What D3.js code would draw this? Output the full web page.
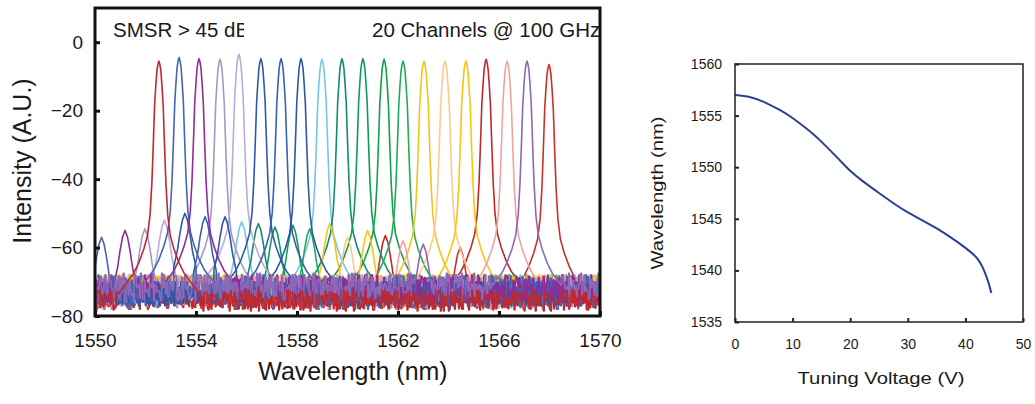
<!DOCTYPE html>
<html>
<head>
<meta charset="utf-8">
<script src="https://cdn.jsdelivr.net/npm/d3@7"></script>
<style>
  body { margin: 0; background: #fff; }
  svg { display: block; }
  text { font-family: "Liberation Sans", Arial, sans-serif; fill: #1a1a1a; }
</style>
</head>
<body>
<svg id="chart"></svg>
<script>
// ---- left panel: 20 channel spectra ----
var peakCenters = [1552.53, 1553.33, 1554.12, 1554.95, 1555.70, 1556.57, 1557.37, 1558.16, 1558.99, 1559.78,
                   1560.61, 1561.45, 1562.20, 1563.03, 1563.86, 1564.69, 1565.49, 1566.32, 1567.11, 1567.98];
var peakLevels = [-5.5, -4.5, -4.8, -5, -3.5, -4.8, -4.8, -4.8, -5, -4.8,
                  -4.8, -5, -5.5, -5.5, -5.5, -5.5, -5, -5.5, -5.5, -6.5];
var channelColors = ["#c0282d", "#4564b4", "#8e2c9a", "#a597c6", "#b9acd6", "#2f58a8", "#3a5fb3", "#2e55a6", "#74c7ea", "#0f8e6e",
                     "#109a5a", "#14a04a", "#22aa58", "#f8c21c", "#fcc98e", "#ffc20e", "#c1272d", "#f3a1a0", "#8d68b6", "#c9302c"];
// side modes (wavelength, level)
var sideWl = [1549.4, 1550.26, 1551.19, 1551.98, 1552.75, 1553.56, 1554.36, 1555.15, 1555.81, 1556.47,
              1557.13, 1557.84, 1558.5, 1559.3, 1560.0, 1560.8, 1561.5, 1562.2, 1563.0, 1564.46];
var sideLevels = [-57, -57, -55, -54.5, -52, -50, -51, -51, -52.5, -53,
                  -54, -53.5, -54.5, -53, -57, -55, -56.5, -58, -59, -60];
// noise floor band of each trace
var noiseLo = [-78.5, -78, -76, -78, -77, -77, -77, -77, -75, -75, -75, -75, -75, -74, -74, -74, -77, -74, -76, -78];
var noiseHi = [-72.5, -68, -68, -69, -69, -70, -70, -70, -68, -68, -69, -69, -69, -68, -68, -68, -72, -68, -67.5, -73];
var drawOrder = [19, 16, 8, 9, 10, 11, 12, 13, 14, 15, 17, 3, 4, 5, 6, 7, 1, 2, 18, 0];
// line shape of a lasing peak: [offset nm, dB below peak]
var peakShape = [[0, 0], [0.04, -1], [0.08, -3], [0.12, -7], [0.17, -13], [0.22, -24], [0.28, -36],
                 [0.35, -45], [0.45, -51], [0.6, -55], [0.8, -59], [1.0, -62], [1.3, -65], [1.6, -68]];
var sideShape = [[0, 0], [0.1, -2], [0.2, -6], [0.3, -11], [0.45, -16]];
// noise texture estimated from the floor of the plot
var jitterA = [0.2, 0.9, 0.5, 0.1, 0.7, 0.35, 1.0, 0.05, 0.6, 0.8, 0.25, 0.45, 0.95, 0.15, 0.55, 0.75, 0.0, 0.65, 0.3, 0.85,
               0.4, 0.1, 0.9, 0.5, 0.2, 0.7, 0.95, 0.35, 0.6, 0.05, 0.8, 0.45, 0.25, 1.0, 0.15, 0.55, 0.7, 0.3, 0.9, 0.0,
               0.65, 0.4, 0.85, 0.2, 0.5, 0.75, 0.1];
var jitterB = [0.6, 0.1, 0.85, 0.4, 0.95, 0.25, 0.7, 0.0, 0.5, 0.9, 0.3, 0.75, 0.15, 0.55, 1.0, 0.35, 0.8, 0.05, 0.65, 0.45,
               0.2, 0.9, 0.55, 0.1, 0.7, 0.4, 0.95, 0.25, 0.6, 0.8, 0.0, 0.5, 0.85, 0.3, 0.65, 0.15, 1.0, 0.45, 0.75, 0.2,
               0.55, 0.9, 0.35, 0.05, 0.7, 0.6, 0.25, 0.95, 0.4, 0.8, 0.1, 0.5, 0.3];
var specXTicks = [1550, 1554, 1558, 1562, 1566, 1570];
var specYTicks = [0, -20, -40, -60, -80];

// ---- right panel: tuning curve ----
var voltage = [0, 3, 5, 8, 10, 13, 15, 18, 20, 22, 25, 28, 30, 33, 35, 38, 40, 42, 43, 44, 44.5];
var tunedWl = [1557.0, 1556.8, 1556.35, 1555.5, 1554.8, 1553.5, 1552.5, 1550.8, 1549.6, 1548.7, 1547.5,
               1546.3, 1545.6, 1544.7, 1544.1, 1543.0, 1542.2, 1541.3, 1540.4, 1538.9, 1537.8];
var tuneXTicks = [0, 10, 20, 30, 40, 50];
var tuneYTicks = [1535, 1540, 1545, 1550, 1555, 1560];

var width = 1035;
var height = 404;

var svg = d3.select("#chart").attr("width", width).attr("height", height);

// ===== left panel =====
var x = d3.scaleLinear().domain([1550, 1570]).range([95, 600]);
var y = d3.scaleLinear().domain([-80, 10]).range([316, 8]);

var defs = svg.append("defs");
defs.append("clipPath").attr("id", "specClip")
  .append("rect").attr("x", 95).attr("y", 8).attr("width", 505).attr("height", 308);
defs.append("clipPath").attr("id", "smsrClip")
  .append("rect").attr("x", 95).attr("y", 8).attr("width", 149).attr("height", 60);

function shapeAt(shape, dx) {
  var a = Math.abs(dx);
  var last = shape[shape.length - 1];
  if (a >= last[0]) return -Infinity;
  for (var i = 1; i < shape.length; i++) {
    if (a <= shape[i][0]) {
      var t = (a - shape[i - 1][0]) / (shape[i][0] - shape[i - 1][0]);
      return shape[i - 1][1] + t * (shape[i][1] - shape[i - 1][1]);
    }
  }
  return -Infinity;
}

var sampleWl = d3.range(0, 2001).map(function(i) { return 1550 + i * 0.01; });

var line = d3.line()
  .x(function(d) { return x(d[0]); })
  .y(function(d) { return y(d[1]); });

var traces = svg.append("g").attr("clip-path", "url(#specClip)");

drawOrder.forEach(function(k) {
  var pts = sampleWl.map(function(w, i) {
    var p = peakLevels[k] + shapeAt(peakShape, w - peakCenters[k]);
    var s = sideLevels[k] + shapeAt(sideShape, w - sideWl[k]);
    var m = Math.floor(i / 4);
    var j = (m % 2 === 0)
      ? jitterA[(m * 3 + k * 5) % jitterA.length]
      : jitterB[(m * 7 + k * 11) % jitterB.length];
    var n = noiseLo[k] + (noiseHi[k] - noiseLo[k]) * j;
    return [w, Math.max(p, s, n)];
  });
  traces.append("path")
    .attr("d", line(pts))
    .attr("fill", "none")
    .attr("stroke", channelColors[k])
    .attr("stroke-width", 1.6)
    .attr("stroke-linejoin", "round");
});

// annotations
svg.append("text")
  .attr("clip-path", "url(#smsrClip)")
  .attr("x", 113).attr("y", 37)
  .style("font-size", "20.5px")
  .text("SMSR > 45 dB");
svg.append("text")
  .attr("clip-path", "url(#specClip)")
  .attr("x", 372).attr("y", 37)
  .style("font-size", "20.5px")
  .text("20 Channels @ 100 GHz");

var specYAxis = svg.append("g")
  .attr("transform", "translate(95,0)")
  .call(d3.axisLeft(y).tickValues(specYTicks).tickSize(-5).tickPadding(12));
var specXAxis = svg.append("g")
  .attr("transform", "translate(0,316)")
  .call(d3.axisBottom(x).tickValues(specXTicks).tickSize(-5).tickPadding(18).tickFormat(d3.format("d")));
[specYAxis, specXAxis].forEach(function(a) {
  a.select(".domain").remove();
  a.selectAll("line").attr("stroke", "#111").attr("stroke-width", 3);
  a.selectAll("text").style("font-size", "19px").attr("fill", "#1a1a1a");
});

svg.append("rect")
  .attr("x", 95).attr("y", 8).attr("width", 505).attr("height", 308)
  .attr("fill", "none").attr("stroke", "#111").attr("stroke-width", 3);

svg.append("text")
  .attr("transform", "translate(31,161) rotate(-90)")
  .attr("text-anchor", "middle")
  .style("font-size", "25px")
  .text("Intensity (A.U.)");
svg.append("text")
  .attr("x", 353).attr("y", 380)
  .attr("text-anchor", "middle")
  .style("font-size", "25px")
  .text("Wavelength (nm)");

// ===== right panel =====
var x2 = d3.scaleLinear().domain([0, 50]).range([735, 1023]);
var y2 = d3.scaleLinear().domain([1535, 1560]).range([322, 64]);

svg.append("path")
  .datum(d3.zip(voltage, tunedWl))
  .attr("d", d3.line()
    .x(function(d) { return x2(d[0]); })
    .y(function(d) { return y2(d[1]); })
    .curve(d3.curveBasis))
  .attr("fill", "none")
  .attr("stroke", "#2b3f98")
  .attr("stroke-width", 2);

var tuneYAxis = svg.append("g")
  .attr("transform", "translate(735,0)")
  .call(d3.axisLeft(y2).tickValues(tuneYTicks).tickSize(-4).tickPadding(13).tickFormat(d3.format("d")));
var tuneXAxis = svg.append("g")
  .attr("transform", "translate(0,322)")
  .call(d3.axisBottom(x2).tickValues(tuneXTicks).tickSize(-4).tickPadding(17).tickFormat(d3.format("d")));
[tuneYAxis, tuneXAxis].forEach(function(a) {
  a.select(".domain").remove();
  a.selectAll("line").attr("stroke", "#222").attr("stroke-width", 2);
  a.selectAll("text").style("font-size", "14px").attr("fill", "#222");
});

svg.append("rect")
  .attr("x", 735).attr("y", 64).attr("width", 288).attr("height", 258)
  .attr("fill", "none").attr("stroke", "#222").attr("stroke-width", 1.5);

svg.append("text")
  .attr("transform", "translate(663,193) rotate(-90)")
  .attr("text-anchor", "middle")
  .attr("textLength", 153)
  .attr("lengthAdjust", "spacingAndGlyphs")
  .style("font-size", "16px")
  .text("Wavelength (nm)");
svg.append("text")
  .attr("x", 881).attr("y", 384)
  .attr("text-anchor", "middle")
  .attr("textLength", 167)
  .attr("lengthAdjust", "spacingAndGlyphs")
  .style("font-size", "17px")
  .text("Tuning Voltage (V)");
</script>
</body>
</html>
